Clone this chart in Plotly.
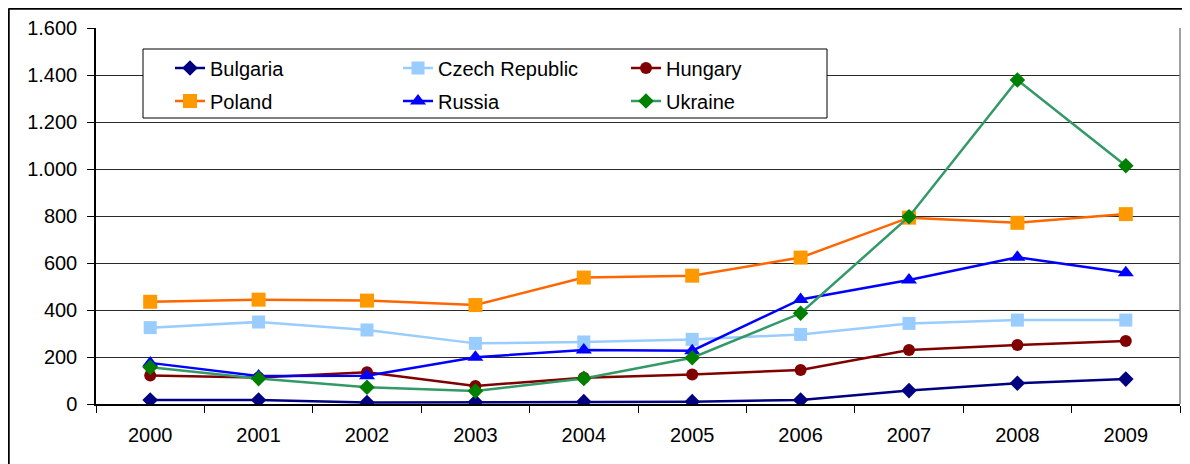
import plotly.graph_objects as go

years = ["2000", "2001", "2002", "2003", "2004", "2005", "2006", "2007", "2008", "2009"]
bulgaria = [17, 17, 6, 8, 10, 10, 17, 57, 88, 106]
czech = [325, 349, 315, 258, 264, 275, 296, 343, 357, 357]
hungary = [121, 113, 135, 77, 112, 126, 145, 230, 251, 268]
poland = [435, 444, 440, 421, 538, 546, 623, 793, 771, 808]
russia = [175, 119, 120, 199, 230, 227, 445, 528, 624, 559]
ukraine = [156, 108, 71, 55, 109, 197, 386, 797, 1379, 1014]
y_ticks = [0, 200, 400, 600, 800, 1000, 1200, 1400, 1600]

series = [
    ("Bulgaria", bulgaria, "#000080", "#000080", "diamond", 12, "legend"),
    ("Czech Republic", czech, "#99CCFF", "#99CCFF", "square", 13, "legend"),
    ("Hungary", hungary, "#800000", "#800000", "circle", 12, "legend"),
    ("Poland", poland, "#FF6600", "#FF9900", "square", 14, "legend2"),
    ("Russia", russia, "#0000FF", "#0000FF", "triangle-up", 14, "legend2"),
    ("Ukraine", ukraine, "#339966", "#008000", "diamond", 12, "legend2"),
]

fig = go.Figure()
for name, vals, lc, mc, sym, sz, lg in series:
    fig.add_trace(go.Scatter(
        x=years, y=vals, name=name, mode="lines+markers",
        line=dict(color=lc, width=2.5),
        marker=dict(color=mc, symbol=sym, size=sz, line=dict(width=0)),
        legend=lg,
    ))

# page has an 8px body margin; figure coordinates = page coordinates - 8
OFF = 8
W, H = 1190 - OFF, 464 - OFF
L, T, R, B = 96 - OFF, 28 - OFF, 10, 60
pw, ph = W - L - R, H - T - B

def px(xp):
    return (xp - OFF - L) / pw

def py(yp):
    return (H - B - (yp - OFF)) / ph

font = dict(family="Liberation Sans, Arial, sans-serif", size=20, color="black")

legend_common = dict(
    orientation="h", xanchor="left", yanchor="middle",
    font=font, bgcolor="rgba(0,0,0,0)", borderwidth=0,
    entrywidth=183, entrywidthmode="pixels", itemclick=False,
)

fig.update_layout(
    width=W, height=H,
    margin=dict(l=L, r=R, t=T, b=B, pad=0),
    paper_bgcolor="white", plot_bgcolor="white",
    font=font,
    separators=",.",
    showlegend=True,
    legend=dict(x=px(170), y=py(68), **legend_common),
    legend2=dict(x=px(170), y=py(101), **legend_common),
    xaxis=dict(
        type="category", range=[-0.5, 9.5],
        showgrid=False, showline=True, linecolor="black", linewidth=1.5,
        ticks="outside", tickson="boundaries", ticklen=7, tickcolor="black",
        tickfont=font, ticklabelstandoff=12, zeroline=False,
    ),
    yaxis=dict(
        range=[0, 1600], tickvals=y_ticks, tickformat=",d",
        showgrid=True, gridcolor="#2a2a2a", gridwidth=1.2,
        showline=True, linecolor="black", linewidth=1.5,
        ticks="outside", ticklen=7, tickcolor="black",
        tickfont=font, ticklabelstandoff=6, zeroline=False,
    ),
    shapes=[
        # legend box
        dict(type="rect", xref="paper", yref="paper",
             x0=px(143), x1=px(827), y0=py(118), y1=py(49),
             line=dict(color="black", width=1), fillcolor="white", layer="above"),
        # plot area right border
        dict(type="line", xref="paper", yref="paper",
             x0=1, x1=1, y0=0, y1=1, line=dict(color="#808080", width=1.5)),
        # outer frame (left and top)
        dict(type="line", xref="paper", yref="paper",
             x0=px(8.5), x1=px(8.5), y0=py(480), y1=py(8.5),
             line=dict(color="black", width=2.5)),
        dict(type="line", xref="paper", yref="paper",
             x0=px(8.5), x1=px(1200), y0=py(8.5), y1=py(8.5),
             line=dict(color="black", width=2.5)),
    ],
)

fig.write_html("out.html")
